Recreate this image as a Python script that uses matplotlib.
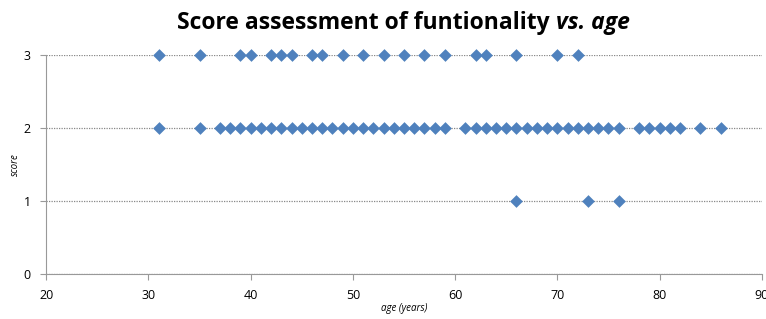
import matplotlib.pyplot as plt
import numpy as np

# ages with score 3, 2 and 1
age_3 = [31, 35, 39, 40, 42, 43, 44, 46, 47, 49, 51, 53, 55, 57, 59,
         62, 63, 66, 70, 72]
age_2 = [31, 35] + list(range(37, 60)) + list(range(61, 77)) + \
        [78, 79, 80, 81, 82, 84, 86]
age_1 = [66, 73, 76]

ages = np.array(age_3 + age_2 + age_1)
scores = np.array([3] * len(age_3) + [2] * len(age_2) + [1] * len(age_1))

x_ticks = [20, 30, 40, 50, 60, 70, 80, 90]
y_ticks = [0, 1, 2, 3]

plt.rcParams['font.family'] = ['Open Sans', 'DejaVu Sans']

fig = plt.figure(figsize=(7.66, 3.19), dpi=100)
ax = fig.add_axes([0.0604, 0.142, 0.934, 0.6856])

ax.scatter(ages, scores, marker="D", s=42, color="#4F81BD", zorder=3,
           clip_on=False, linewidths=0)

ax.set_xlim(20, 90)
ax.set_ylim(0, 3)
ax.set_xticks(x_ticks)
ax.set_yticks(y_ticks)
ax.grid(axis="y", linestyle=(0, (1, 1)), color="#888888", linewidth=0.9)
ax.set_axisbelow(True)

for s in ["top", "right"]:
    ax.spines[s].set_visible(False)
for s in ["left", "bottom"]:
    ax.spines[s].set_color("#999999")
ax.tick_params(axis="both", colors="#999999", labelcolor="black",
               labelsize=9, length=4, direction="out")
ax.tick_params(axis="x", pad=7)
ax.tick_params(axis="y", pad=7)

ax.set_xlabel("age (years)", fontsize=7, style="italic", labelpad=1)
ax.set_ylabel("score", fontsize=7, style="italic", labelpad=2)

# title: normal bold part + bold italic part
fig.canvas.draw()
r = fig.canvas.get_renderer()
t1 = fig.text(0, 0.909, "Score assessment of funtionality ", fontsize=16.5,
              fontweight="bold", va="baseline")
t2 = fig.text(0, 0.909, "vs. age", fontsize=16.5, fontweight="bold",
              style="italic", va="baseline")
w1 = t1.get_window_extent(r).width / fig.bbox.width
w2 = t2.get_window_extent(r).width / fig.bbox.width
x0 = 0.527 - (w1 + w2) / 2
t1.set_x(x0)
t2.set_x(x0 + w1)

fig.savefig("out.png", dpi=100)
